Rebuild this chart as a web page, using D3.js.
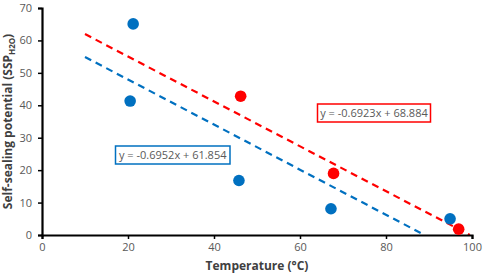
<!DOCTYPE html>
<html>
<head>
<meta charset="utf-8">
<script src="https://cdn.jsdelivr.net/npm/d3@7"></script>
<style>
  body { margin: 0; background: #fff; }
  svg text { font-family: "Open Sans", "Liberation Sans", sans-serif; }
</style>
</head>
<body>
<div id="chart"></div>
<script>
// data
const blueTemps = [20.5, 21.2, 45.8, 67.2, 94.9];
const blueSSP = [41.3, 65.1, 16.8, 8.1, 5.0];
const redTemps = [46.2, 67.8, 96.9];
const redSSP = [42.8, 19.0, 1.8];
const blueFit = { slope: -0.6952, intercept: 61.854, label: 'y = -0.6952x + 61.854' };
const redFit = { slope: -0.6923, intercept: 68.884, label: 'y = -0.6923x + 68.884' };
const xTicks = [0, 20, 40, 60, 80, 100];
const yTicks = [0, 10, 20, 30, 40, 50, 60, 70];

const width = 484, height = 273;
const margin = { top: 8, right: 12, bottom: 38, left: 42 };
const blue = '#0070C0', red = '#FF0000';

const svg = d3.select('#chart').append('svg')
  .attr('width', width)
  .attr('height', height);

const x = d3.scaleLinear().domain([0, 100]).range([margin.left, width - margin.right]);
const y = d3.scaleLinear().domain([0, 70]).range([height - margin.bottom, margin.top]);

// trend lines from x=10 to where they meet zero (or the axis end)
function fitLine(fit, color) {
  const xEnd = Math.min(100, -fit.intercept / fit.slope);
  const pts = [10, xEnd].map(t => [x(t), y(fit.slope * t + fit.intercept)]);
  svg.append('path')
    .attr('d', d3.line()(pts))
    .attr('fill', 'none')
    .attr('stroke', color)
    .attr('stroke-width', 2.2)
    .attr('stroke-dasharray', '7,5');
}
fitLine(redFit, red);
fitLine(blueFit, blue);

// axes
const xAxis = svg.append('g')
  .attr('transform', `translate(0,${y(0)})`)
  .call(d3.axisBottom(x).tickValues(xTicks).tickSize(4).tickPadding(4));
const yAxis = svg.append('g')
  .attr('transform', `translate(${x(0)},0)`)
  .call(d3.axisLeft(y).tickValues(yTicks).tickSize(4).tickPadding(6));

[xAxis, yAxis].forEach(g => {
  g.select('.domain').attr('stroke', '#000').attr('stroke-width', 2.2);
  g.selectAll('.tick line').attr('stroke', '#000').attr('stroke-width', 1.5);
  g.selectAll('.tick text')
    .attr('fill', '#595959')
    .style('font-size', '11px');
});

// points
svg.append('g').selectAll('circle')
  .data(blueTemps.map((t, i) => [t, blueSSP[i]]))
  .join('circle')
  .attr('cx', d => x(d[0]))
  .attr('cy', d => y(d[1]))
  .attr('r', 5.8)
  .attr('fill', blue);

svg.append('g').selectAll('circle')
  .data(redTemps.map((t, i) => [t, redSSP[i]]))
  .join('circle')
  .attr('cx', d => x(d[0]))
  .attr('cy', d => y(d[1]))
  .attr('r', 5.8)
  .attr('fill', red);

// equation labels
function eqLabel(fit, color, bx, by, bw, bh) {
  svg.append('rect')
    .attr('x', bx).attr('y', by)
    .attr('width', bw).attr('height', bh)
    .attr('fill', '#fff')
    .attr('stroke', color)
    .attr('stroke-width', 1.5);
  svg.append('text')
    .attr('x', bx + bw / 2)
    .attr('y', by + bh / 2 + 4)
    .attr('text-anchor', 'middle')
    .attr('fill', '#595959')
    .style('font-size', '11px')
    .text(fit.label);
}
eqLabel(blueFit, blue, 115.5, 146, 114.5, 18);
eqLabel(redFit, red, 317.5, 104, 113, 18);

// axis titles
svg.append('text')
  .attr('x', x(50))
  .attr('y', 270)
  .attr('text-anchor', 'middle')
  .attr('fill', '#404040')
  .style('font-size', '12px')
  .style('font-weight', 'bold')
  .text('Temperature (°C)');

const yt = svg.append('text')
  .attr('transform', `translate(12,${y(35)}) rotate(-90)`)
  .attr('text-anchor', 'middle')
  .attr('fill', '#404040')
  .style('font-size', '12px')
  .style('font-weight', 'bold');
yt.append('tspan').text('Self-sealing potential (SSP');
yt.append('tspan').attr('dy', 3).style('font-size', '8px').text('H2O');
yt.append('tspan').attr('dy', -3).text(')');
</script>
</body>
</html>
